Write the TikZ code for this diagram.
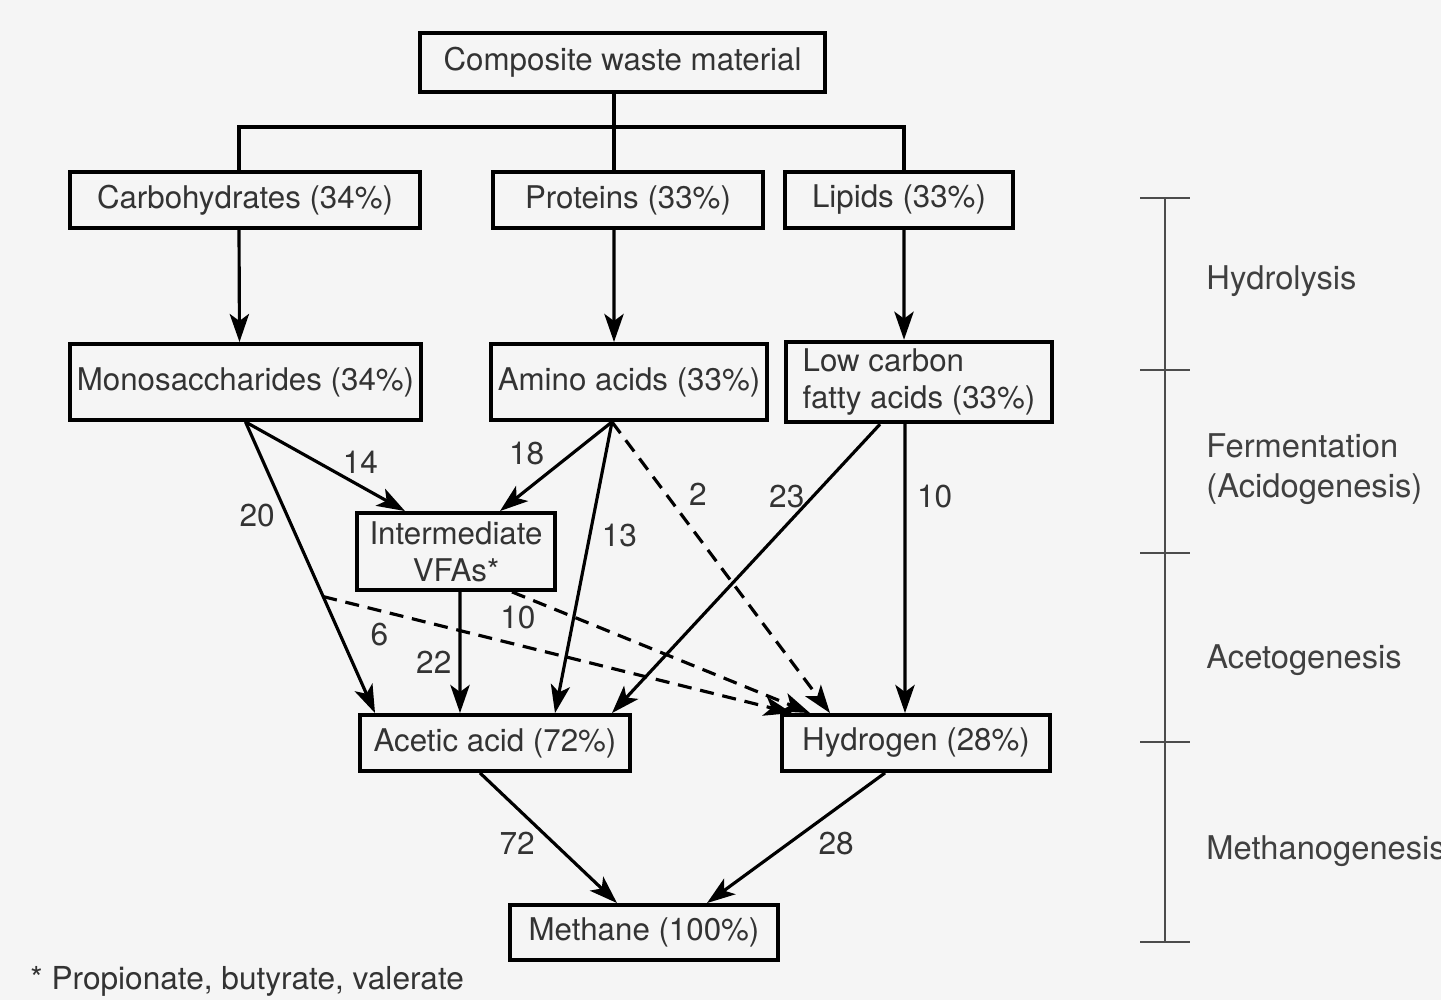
\documentclass[tikz,border=0pt]{standalone}
\usepackage{fontspec}
\setmainfont{TeX Gyre Heros}
\usetikzlibrary{calc}
\usetikzlibrary{arrows.meta}
\usetikzlibrary{positioning}

\begin{document}
\begin{tikzpicture}[
    box/.style={draw=black, line width=1.1pt, inner sep=2pt, text=black!80, font=\fontsize{8.9}{10.5}\selectfont},
    flow/.style={line width=0.9pt, -{Stealth[length=8pt,width=5.5pt,inset=2pt]}},
    dflow/.style={flow, dash pattern=on 4pt off 2.5pt},
    num/.style={text=black!80, font=\fontsize{9}{10.5}\selectfont, inner sep=2pt},
    stage/.style={anchor=west, align=left, text=black!75, font=\fontsize{9.3}{11.3}\selectfont}
    ]
\edef\sx{11.65}
\edef\sl{11.40}
\edef\sr{11.90}

\useasboundingbox[fill=gray!8] (0,0) rectangle (14.41,10);

% substrates
\node[box, minimum width=4.05cm, minimum height=0.59cm] (comp) at (6.225,9.375) {Composite waste material};
\node[box, minimum width=3.50cm, minimum height=0.56cm] (carb) at (2.45,8.0) {Carbohydrates (34\%)};
\node[box, minimum width=2.70cm, minimum height=0.56cm] (prot) at (6.28,8.0) {Proteins (33\%)};
\node[box, minimum width=2.28cm, minimum height=0.56cm] (lip) at (8.99,8.0) {Lipids (33\%)};

\node[box, minimum width=3.51cm, minimum height=0.76cm] (mono) at (2.455,6.18) {Monosaccharides (34\%)};
\node[box, minimum width=2.72cm, minimum height=0.76cm] (amino) at (6.29,6.18) {Amino acids (33\%)};
\node[box, minimum width=2.66cm, minimum height=0.76cm, align=left] (lcfa) at (9.19,6.18) {Low carbon\\fatty acids (33\%)};

\node[box, minimum width=1.98cm, minimum height=0.77cm, align=center] (vfa) at (4.56,4.485) {Intermediate\\VFAs*};

\node[box, minimum width=2.70cm, minimum height=0.56cm] (acetic) at (4.95,2.57) {Acetic acid (72\%)};
\node[box, minimum width=2.68cm, minimum height=0.56cm] (hydro) at (9.16,2.57) {Hydrogen (28\%)};
\node[box, minimum width=2.68cm, minimum height=0.55cm] (meth) at (6.44,0.675) {Methane (100\%)};

% hydrolysis
\coordinate (split) at (6.14,8.73);
\draw[line width=0.9pt] (split |- comp.south) -- (split);
\draw[line width=0.9pt] ([xshift=-0.06cm]carb.north) |- (split) -| ([xshift=0.05cm]lip.north);
\draw[line width=0.9pt] (split) -- (split |- prot.north);

\draw[flow] ([xshift=-0.06cm]carb.south) -- ([xshift=-0.06cm]mono.north);
\draw[flow] ([xshift=-0.14cm]prot.south) -- ([xshift=-0.15cm]amino.north);
\draw[flow] ([xshift=0.05cm]lip.south) -- ([xshift=-0.15cm]lcfa.north);

% fermentation
\draw[flow] (mono.south) -- ([xshift=-0.51cm]vfa.north) node [pos=0.72, above=1pt, num] {14};
\draw[flow] (mono.south) -- ([xshift=-1.20cm]acetic.north) node [pos=0.32, left=1pt, num] {20};
\draw[flow] ([xshift=-0.17cm]amino.south) -- ([xshift=0.44cm]vfa.north) node [pos=0.55, above left=-1pt, num] {18};
\draw[flow] ([xshift=-0.17cm]amino.south) -- ([xshift=0.60cm]acetic.north) node [pos=0.39, right=1pt, num] {13};
\draw[dflow] ([xshift=-0.17cm]amino.south) -- ([xshift=-0.86cm]hydro.north) node [pos=0.25, right=4pt, num] {2};
\draw[flow] ([xshift=-0.39cm]lcfa.south) -- ([xshift=1.17cm]acetic.north) node [pos=0.25, left=0pt, num] {23};
\draw[flow] ([xshift=-0.14cm]lcfa.south) -- ([xshift=-0.11cm]hydro.north) node [pos=0.25, right=1pt, num] {10};

% acetogenesis
\draw[flow] ([xshift=0.04cm]vfa.south) -- ([xshift=-0.35cm]acetic.north) node [pos=0.58, left=0pt, num] {22};
\coordinate (six) at ($(mono.south)!0.60!([xshift=-1.20cm]acetic.north)$);
\draw[dflow] (six) -- ([xshift=-1.24cm]hydro.north) node [pos=0.12, below=1pt, num] {6};
\draw[dflow] ([xshift=0.56cm]vfa.south) -- ([xshift=-1.06cm]hydro.north) node [pos=0.02, below=1pt, num] {10};

% methanogenesis
\draw[flow] ([xshift=-0.15cm]acetic.south) -- ([xshift=-0.27cm]meth.north) node [pos=0.54, left=3pt, num] {72};
\draw[flow] ([xshift=-0.31cm]hydro.south) -- ([xshift=0.63cm]meth.north) node [pos=0.54, right=6pt, num] {28};

% stages
\draw[line width=0.8pt, black!70] (\sx,8.02) -- (\sx,0.58);
\draw[line width=0.8pt, black!70] (\sl,8.02) -- (\sr,8.02);
\draw[line width=0.8pt, black!70] (\sl,6.30) -- (\sr,6.30);
\draw[line width=0.8pt, black!70] (\sl,4.47) -- (\sr,4.47);
\draw[line width=0.8pt, black!70] (\sl,2.58) -- (\sr,2.58);
\draw[line width=0.8pt, black!70] (\sl,0.58) -- (\sr,0.58);

\node[stage] (hyd) at (11.94,7.19) {Hydrolysis};
\node[stage] (fer) at (11.94,5.305) {Fermentation\\(Acidogenesis)};
\node[stage] (ace) at (11.94,3.40) {Acetogenesis};
\node[stage] (met) at (11.94,1.49) {Methanogenesis};

\node[anchor=west, text=black!80, font=\fontsize{9}{10.5}\selectfont] (note) at (0.18,0.19) {* Propionate, butyrate, valerate};
\end{tikzpicture}
\end{document}
